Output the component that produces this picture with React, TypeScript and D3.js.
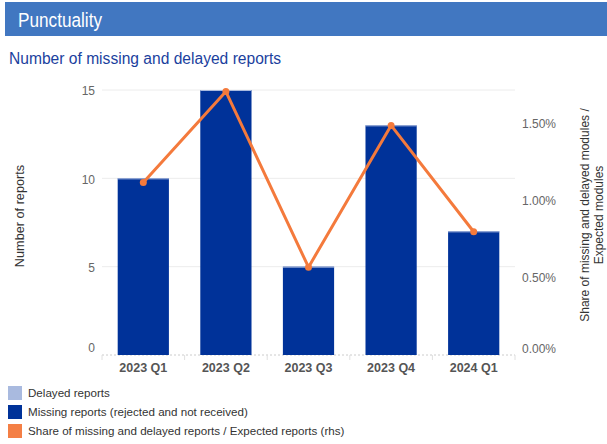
import * as d3 from 'd3';

const quarters = ['2023 Q1', '2023 Q2', '2023 Q3', '2023 Q4', '2024 Q1'];
const missingReports = [10, 15, 5, 13, 7];
const delayedReports = [0, 0, 0, 0, 0];
const shareMissingDelayed = [1.12, 1.71, 0.57, 1.49, 0.8]; // in %
const leftTicks = [0, 5, 10, 15];
const rightTicks = [0, 0.5, 1.0, 1.5];

const legendItems = [
  { label: 'Delayed reports', color: '#a9badf' },
  { label: 'Missing reports (rejected and not received)', color: '#003299' },
  { label: 'Share of missing and delayed reports / Expected reports (rhs)', color: '#f47f45' },
];

const W = 607;
const H = 444;
const PLOT = { left: 102, right: 515, top: 90, bottom: 355 };
const FONT = '"Liberation Sans", Arial, sans-serif';

export default function App() {
  const x = d3.scaleBand().domain(quarters).range([PLOT.left, PLOT.right]).paddingInner(0.38).paddingOuter(0.19);
  const yLeft = d3.scaleLinear().domain([0, 15]).range([PLOT.bottom, PLOT.top]);
  const yRight = d3.scaleLinear().domain([0, 1.72]).range([PLOT.bottom, PLOT.top]);

  const line = d3
    .line<number>()
    .x((_, i) => x(quarters[i])! + x.bandwidth() / 2)
    .y((d) => yRight(d));

  const step = x.step();

  return (
    <svg width={W} height={H} style={{ position: 'absolute', left: 0, top: 0, fontFamily: FONT }}>
      <rect x={0} y={0} width={W} height={H} fill="#fff" />
      {/* header */}
      <rect x={5} y={2} width={W - 5} height={34} fill="#4177c1" />
      <text x={18} y={27} fill="#fff" fontSize={20.5} textLength={84} lengthAdjust="spacingAndGlyphs">Punctuality</text>
      <text x={9} y={64} fill="#1b3f9e" fontSize={15.6}>Number of missing and delayed reports</text>

      {/* gridlines */}
      {leftTicks.filter((t) => t > 0).map((t) => (
        <line key={t} x1={PLOT.left} x2={PLOT.right} y1={yLeft(t)} y2={yLeft(t)} stroke="#ececec" />
      ))}
      <line x1={PLOT.left} x2={PLOT.right} y1={PLOT.bottom} y2={PLOT.bottom} stroke="#ccc" strokeDasharray="2,2" />
      {d3.range(quarters.length + 1).map((i) => (
        <line key={i} x1={PLOT.left + i * step} x2={PLOT.left + i * step} y1={PLOT.bottom} y2={PLOT.bottom + 5} stroke="#e0e0e0" />
      ))}

      {/* left ticks */}
      {leftTicks.map((t) => (
        <text key={t} x={95} y={yLeft(t) + (t === 0 ? -7 : 1)} dy="0.35em" textAnchor="end" fill="#666" fontSize={12}>{t}</text>
      ))}
      {/* right ticks */}
      {rightTicks.map((t) => (
        <text key={t} x={522} y={yRight(t) + (t === 0 ? -6 : 0)} dy="0.35em" fill="#666" fontSize={12}>{t.toFixed(2)}%</text>
      ))}

      <text transform={`translate(24,216) rotate(-90)`} textAnchor="middle" fill="#333" fontSize={12.7}>Number of reports</text>
      <text transform={`translate(589,215) rotate(-90)`} textAnchor="middle" fill="#333" fontSize={12}>
        <tspan x={0} dy={0}>Share of missing and delayed modules /</tspan>
        <tspan x={0} dy={14}>Expected modules</tspan>
      </text>

      {/* bars */}
      {quarters.map((q, i) => {
        const m = missingReports[i];
        const dl = delayedReports[i];
        return (
          <g key={q}>
            <rect x={x(q)} y={yLeft(m)} width={x.bandwidth()} height={yLeft(0) - yLeft(m)} fill="#003299" />
            <line x1={x(q)} x2={x(q)! + x.bandwidth()} y1={yLeft(m) + 0.5} y2={yLeft(m) + 0.5} stroke="#a9badf" strokeWidth={1} />
            {dl > 0 && (
              <rect x={x(q)} y={yLeft(m + dl)} width={x.bandwidth()} height={yLeft(m) - yLeft(m + dl)} fill="#a9badf" />
            )}
          </g>
        );
      })}

      {/* line */}
      <path d={line(shareMissingDelayed) ?? ''} fill="none" stroke="#f47a3c" strokeWidth={3} strokeLinejoin="round" />
      {shareMissingDelayed.map((v, i) => (
        <circle key={i} cx={x(quarters[i])! + x.bandwidth() / 2} cy={yRight(v)} r={3.5} fill="#f47a3c" />
      ))}

      {/* x labels */}
      {quarters.map((q) => (
        <text key={q} x={x(q)! + x.bandwidth() / 2} y={372} textAnchor="middle" fill="#555" fontSize={12.5} fontWeight="bold">{q}</text>
      ))}

      {/* legend */}
      {legendItems.map((it, i) => (
        <g key={it.label} transform={`translate(8,${386 + i * 19})`}>
          <rect x={0} y={0} width={14} height={14} fill={it.color} />
          <text x={20} y={11} fill="#333" fontSize={11.6}>{it.label}</text>
        </g>
      ))}
    </svg>
  );
}
